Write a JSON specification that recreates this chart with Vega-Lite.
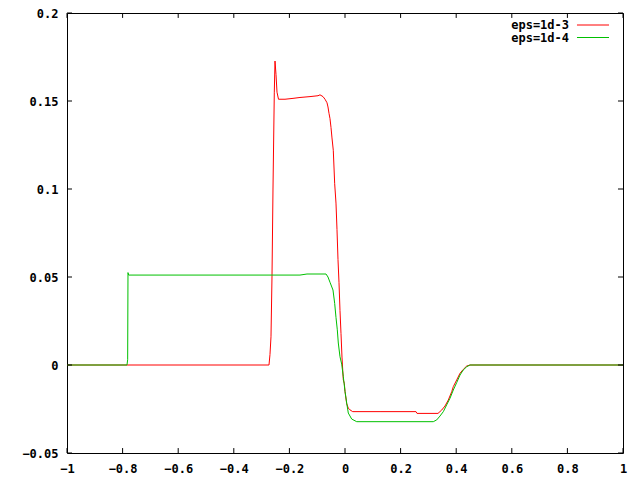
{
  "$schema": "https://vega.github.io/schema/vega-lite/v6.json",
  "width": 556,
  "height": 440,
  "autosize": {"type": "none"},
  "padding": {"left": 67, "top": 13, "right": 17, "bottom": 27},
  "background": "white",
  "config": {
    "view": {"stroke": "black", "strokeWidth": 1},
    "font": "DejaVu Sans Mono",
    "axis": {
      "grid": false,
      "domain": false,
      "ticks": false,
      "format": "~g",
      "labelFont": "DejaVu Sans Mono",
      "labelFontWeight": "bold",
      "labelFontSize": 12,
      "labelColor": "black",
      "title": null
    }
  },
  "datasets": {
    "xt": [{"t": -1}, {"t": -0.8}, {"t": -0.6}, {"t": -0.4}, {"t": -0.2}, {"t": 0}, {"t": 0.2}, {"t": 0.4}, {"t": 0.6}, {"t": 0.8}, {"t": 1}],
    "yt": [{"v": -0.05}, {"v": 0}, {"v": 0.05}, {"v": 0.1}, {"v": 0.15}, {"v": 0.2}]
  },
  "data": {
    "values": [
      {"s": "eps=1d-3", "x": -1, "y": 0},
      {"s": "eps=1d-3", "x": -0.2734, "y": 0},
      {"s": "eps=1d-3", "x": -0.2698, "y": 0.006},
      {"s": "eps=1d-3", "x": -0.2662, "y": 0.016},
      {"s": "eps=1d-3", "x": -0.2626, "y": 0.05},
      {"s": "eps=1d-3", "x": -0.259, "y": 0.1},
      {"s": "eps=1d-3", "x": -0.2543, "y": 0.155},
      {"s": "eps=1d-3", "x": -0.2518, "y": 0.1727},
      {"s": "eps=1d-3", "x": -0.2482, "y": 0.165},
      {"s": "eps=1d-3", "x": -0.2446, "y": 0.155},
      {"s": "eps=1d-3", "x": -0.2392, "y": 0.151},
      {"s": "eps=1d-3", "x": -0.2158, "y": 0.151},
      {"s": "eps=1d-3", "x": -0.187, "y": 0.1515},
      {"s": "eps=1d-3", "x": -0.1619, "y": 0.152},
      {"s": "eps=1d-3", "x": -0.1259, "y": 0.1525},
      {"s": "eps=1d-3", "x": -0.0971, "y": 0.153},
      {"s": "eps=1d-3", "x": -0.0899, "y": 0.1535},
      {"s": "eps=1d-3", "x": -0.0791, "y": 0.1525},
      {"s": "eps=1d-3", "x": -0.0719, "y": 0.151},
      {"s": "eps=1d-3", "x": -0.0647, "y": 0.149},
      {"s": "eps=1d-3", "x": -0.0612, "y": 0.1466},
      {"s": "eps=1d-3", "x": -0.0576, "y": 0.143},
      {"s": "eps=1d-3", "x": -0.054, "y": 0.14},
      {"s": "eps=1d-3", "x": -0.0504, "y": 0.135},
      {"s": "eps=1d-3", "x": -0.0468, "y": 0.129},
      {"s": "eps=1d-3", "x": -0.0421, "y": 0.122},
      {"s": "eps=1d-3", "x": -0.0371, "y": 0.103},
      {"s": "eps=1d-3", "x": -0.0324, "y": 0.092},
      {"s": "eps=1d-3", "x": -0.0288, "y": 0.077},
      {"s": "eps=1d-3", "x": -0.0252, "y": 0.06},
      {"s": "eps=1d-3", "x": -0.0216, "y": 0.047},
      {"s": "eps=1d-3", "x": -0.018, "y": 0.031},
      {"s": "eps=1d-3", "x": -0.0144, "y": 0.018},
      {"s": "eps=1d-3", "x": -0.0108, "y": 0.0045},
      {"s": "eps=1d-3", "x": -0.0061, "y": -0.0085},
      {"s": "eps=1d-3", "x": -0.0025, "y": -0.0104},
      {"s": "eps=1d-3", "x": 0.0, "y": -0.015},
      {"s": "eps=1d-3", "x": 0.0061, "y": -0.022},
      {"s": "eps=1d-3", "x": 0.0119, "y": -0.0245},
      {"s": "eps=1d-3", "x": 0.018, "y": -0.0255},
      {"s": "eps=1d-3", "x": 0.0277, "y": -0.0265},
      {"s": "eps=1d-3", "x": 0.126, "y": -0.0265},
      {"s": "eps=1d-3", "x": 0.2554, "y": -0.0265},
      {"s": "eps=1d-3", "x": 0.259, "y": -0.0275},
      {"s": "eps=1d-3", "x": 0.3345, "y": -0.0275},
      {"s": "eps=1d-3", "x": 0.3478, "y": -0.0256},
      {"s": "eps=1d-3", "x": 0.3597, "y": -0.0233},
      {"s": "eps=1d-3", "x": 0.3716, "y": -0.0199},
      {"s": "eps=1d-3", "x": 0.3838, "y": -0.0152},
      {"s": "eps=1d-3", "x": 0.3896, "y": -0.0123},
      {"s": "eps=1d-3", "x": 0.4018, "y": -0.0085},
      {"s": "eps=1d-3", "x": 0.4137, "y": -0.0047},
      {"s": "eps=1d-3", "x": 0.4255, "y": -0.0025},
      {"s": "eps=1d-3", "x": 0.4378, "y": -0.0006},
      {"s": "eps=1d-3", "x": 0.4496, "y": 0},
      {"s": "eps=1d-3", "x": 1, "y": 0},
      {"s": "eps=1d-4", "x": -1, "y": 0},
      {"s": "eps=1d-4", "x": -0.7842, "y": 0},
      {"s": "eps=1d-4", "x": -0.7818, "y": 0.003},
      {"s": "eps=1d-4", "x": -0.7806, "y": 0.0525},
      {"s": "eps=1d-4", "x": -0.7782, "y": 0.0511},
      {"s": "eps=1d-4", "x": -0.1619, "y": 0.0511},
      {"s": "eps=1d-4", "x": -0.1367, "y": 0.0517},
      {"s": "eps=1d-4", "x": -0.0683, "y": 0.0517},
      {"s": "eps=1d-4", "x": -0.0612, "y": 0.05},
      {"s": "eps=1d-4", "x": -0.054, "y": 0.047},
      {"s": "eps=1d-4", "x": -0.0432, "y": 0.0426},
      {"s": "eps=1d-4", "x": -0.0371, "y": 0.035},
      {"s": "eps=1d-4", "x": -0.0324, "y": 0.027},
      {"s": "eps=1d-4", "x": -0.0277, "y": 0.02},
      {"s": "eps=1d-4", "x": -0.0241, "y": 0.0125},
      {"s": "eps=1d-4", "x": -0.018, "y": 0.0047},
      {"s": "eps=1d-4", "x": -0.0119, "y": 0.0005},
      {"s": "eps=1d-4", "x": -0.0061, "y": -0.0066},
      {"s": "eps=1d-4", "x": 0.0, "y": -0.015},
      {"s": "eps=1d-4", "x": 0.0061, "y": -0.0216},
      {"s": "eps=1d-4", "x": 0.0119, "y": -0.0273},
      {"s": "eps=1d-4", "x": 0.0241, "y": -0.0307},
      {"s": "eps=1d-4", "x": 0.0421, "y": -0.0322},
      {"s": "eps=1d-4", "x": 0.3176, "y": -0.0322},
      {"s": "eps=1d-4", "x": 0.3299, "y": -0.0312},
      {"s": "eps=1d-4", "x": 0.3417, "y": -0.029},
      {"s": "eps=1d-4", "x": 0.3537, "y": -0.0265},
      {"s": "eps=1d-4", "x": 0.3656, "y": -0.0227},
      {"s": "eps=1d-4", "x": 0.3777, "y": -0.0189},
      {"s": "eps=1d-4", "x": 0.3896, "y": -0.0142},
      {"s": "eps=1d-4", "x": 0.4018, "y": -0.01},
      {"s": "eps=1d-4", "x": 0.4137, "y": -0.0057},
      {"s": "eps=1d-4", "x": 0.4255, "y": -0.0028},
      {"s": "eps=1d-4", "x": 0.4378, "y": -0.001},
      {"s": "eps=1d-4", "x": 0.4496, "y": 0},
      {"s": "eps=1d-4", "x": 1, "y": 0}
    ]
  },
  "layer": [
    {
      "mark": {"type": "line", "strokeWidth": 1, "interpolate": "linear"},
      "encoding": {
        "x": {
          "field": "x", "type": "quantitative",
          "scale": {"domain": [-1, 1], "nice": false, "zero": false},
          "axis": {"orient": "bottom", "values": [-1, -0.8, -0.6, -0.4, -0.2, 0, 0.2, 0.4, 0.6, 0.8, 1], "labelPadding": 10, "labelFlush": false, "labelOverlap": false}
        },
        "y": {
          "field": "y", "type": "quantitative",
          "scale": {"domain": [-0.05, 0.2], "nice": false, "zero": false},
          "axis": {"orient": "left", "values": [-0.05, 0, 0.05, 0.1, 0.15, 0.2], "labelPadding": 9, "labelFlush": false, "labelOverlap": false}
        },
        "color": {
          "field": "s", "type": "nominal",
          "scale": {"domain": ["eps=1d-3", "eps=1d-4"], "range": ["#ff0000", "#00c000"]},
          "legend": {
            "orient": "none",
            "legendX": 520,
            "legendY": 6,
            "title": null,
            "symbolType": "M-3,0H3",
            "symbolSize": 114,
            "symbolStrokeWidth": 1,
            "labelAlign": "right",
            "labelOffset": -30,
            "labelFont": "DejaVu Sans Mono",
            "labelFontWeight": "bold",
            "labelFontSize": 12,
            "labelColor": "black",
            "rowPadding": 0.5,
            "padding": 0
          }
        },
        "order": {"field": "x", "type": "quantitative"}
      }
    },
    {
      "data": {"name": "xt"},
      "mark": {"type": "rule", "color": "black", "strokeWidth": 1},
      "encoding": {
        "x": {"field": "t", "type": "quantitative", "axis": null},
        "y": {"datum": -0.05, "type": "quantitative", "axis": null},
        "y2": {"datum": -0.0472}
      }
    },
    {
      "data": {"name": "xt"},
      "mark": {"type": "rule", "color": "black", "strokeWidth": 1},
      "encoding": {
        "x": {"field": "t", "type": "quantitative", "axis": null},
        "y": {"datum": 0.2, "type": "quantitative", "axis": null},
        "y2": {"datum": 0.1972}
      }
    },
    {
      "data": {"name": "yt"},
      "mark": {"type": "rule", "color": "black", "strokeWidth": 1},
      "encoding": {
        "y": {"field": "v", "type": "quantitative", "axis": null},
        "x": {"datum": -1, "type": "quantitative", "axis": null},
        "x2": {"datum": -0.982}
      }
    },
    {
      "data": {"name": "yt"},
      "mark": {"type": "rule", "color": "black", "strokeWidth": 1},
      "encoding": {
        "y": {"field": "v", "type": "quantitative", "axis": null},
        "x": {"datum": 1, "type": "quantitative", "axis": null},
        "x2": {"datum": 0.982}
      }
    }
  ],
  "resolve": {"axis": {"x": "independent", "y": "independent"}}
}
